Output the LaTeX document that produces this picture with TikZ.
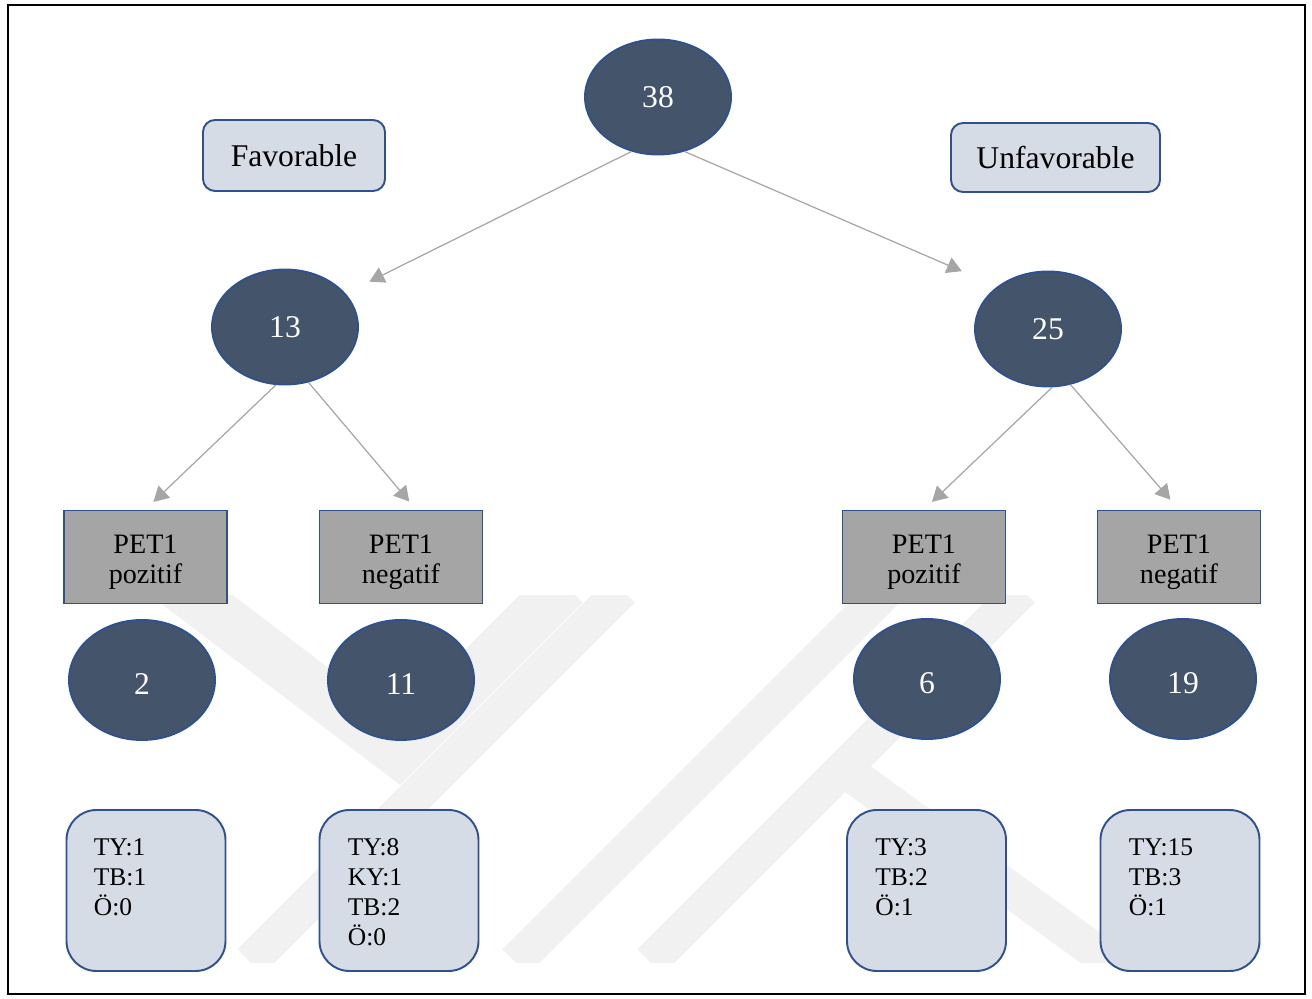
\documentclass[tikz,border=0pt]{standalone}
\usepackage{fontspec}
\setmainfont{Liberation Serif}
\usetikzlibrary{arrows.meta,shapes.geometric,calc}
\newlength{\pxu}\setlength{\pxu}{0.02cm}
\definecolor{ellfill}{HTML}{44546A}
\definecolor{bord}{HTML}{2F528F}
\definecolor{petfill}{HTML}{A5A5A5}
\definecolor{boxfill}{HTML}{D6DCE5}
\definecolor{arrgray}{HTML}{A6A6A6}
\definecolor{wmark}{HTML}{F1F1F1}
\begin{document}
\begin{tikzpicture}[x=0.02cm,y=-0.02cm,
  ell/.style={ellipse,draw=bord,fill=ellfill,line width=1.1pt,minimum width=146\pxu,minimum height=115\pxu,inner sep=0pt,text=white,font=\fontsize{18}{21}\selectfont},
  ellb/.style={ell,minimum height=120\pxu,text height=16.7pt,text depth=0pt},
  lblbox/.style={rectangle,rounded corners=12\pxu,draw=bord,fill=boxfill,line width=1.1pt,font=\fontsize{18}{21}\selectfont,inner sep=0pt},
  petbox/.style={rectangle,draw=bord,fill=petfill,line width=1.1pt,minimum width=163\pxu,minimum height=93\pxu,align=center,inner sep=0pt,font=\fontsize{16}{17}\selectfont},
  leafbox/.style={rectangle,rounded corners=30\pxu,draw=bord,fill=boxfill,line width=1.1pt,minimum width=159\pxu,minimum height=161\pxu,inner sep=0pt},
  leaftext/.style={anchor=base west,inner sep=0pt,font=\fontsize{14.5}{17}\selectfont},
  conn/.style={draw=arrgray,line width=0.7pt,-{Triangle[length=8.5pt,width=9.5pt]}},
  wm/.style={draw=wmark,line width=36\pxu},
  wmthick/.style={draw=wmark,line width=50\pxu}
]
\useasboundingbox (0,0) rectangle (1312,999);

% watermark
\begin{scope}
\clip (60,596) rectangle (1262,962);
\draw[wmthick] (178,585) -- (398,752) -- (565,585);
\draw[wm] (250,962) -- (622,590);
\draw[wm] (515,962) -- (887,590);
\draw[wm] (650,962) -- (1022,590);
\draw[wm] (848,772) -- (1110,962);
\end{scope}

% frame
\draw[line width=1pt] (8,5) rectangle (1305,994);

% top level
\node[ell] (n38) at (658,97) {38};
\node[lblbox,minimum width=182\pxu,minimum height=71\pxu] (fav) at (294,155.5) {Favorable};
\node[lblbox,minimum width=209\pxu,minimum height=69\pxu] (unfav) at (1055.5,157.5) {Unfavorable};

\node[ell] (n13) at (285,327) {13};
\node[ell] (n25) at (1048,329) {25};

% PET boxes
\node[petbox] (p1) at (145.5,557) {\rule{0pt}{16.5pt}PET1\\pozitif};
\node[petbox] (p2) at (401,557) {\rule{0pt}{16.5pt}PET1\\negatif};
\node[petbox] (p3) at (924,557) {\rule{0pt}{16.5pt}PET1\\pozitif};
\node[petbox] (p4) at (1179,557) {\rule{0pt}{16.5pt}PET1\\negatif};

% count ellipses
\node[ellb] (n2) at (142,680) {2};
\node[ellb] (n11) at (401,680) {11};
\node[ellb] (n6) at (927,679) {6};
\node[ellb] (n19) at (1183,679) {19};

% leaf boxes
\node[leafbox] (b1) at (146,890.5) {};
\node[leafbox] (b2) at (399,890.5) {};
\node[leafbox] (b3) at (926.5,890.5) {};
\node[leafbox] (b4) at (1180,890.5) {};

\node[leaftext] (t1a) at ([shift={(28\pxu,-46\pxu)}]b1.north west) {TY:1};
\node[leaftext] (t1b) at ([yshift=-30\pxu]t1a.base west) {TB:1};
\node[leaftext] (t1c) at ([yshift=-30\pxu]t1b.base west) {Ö:0};

\node[leaftext] (t2a) at ([shift={(29\pxu,-46\pxu)}]b2.north west) {TY:8};
\node[leaftext] (t2b) at ([yshift=-30\pxu]t2a.base west) {KY:1};
\node[leaftext] (t2c) at ([yshift=-30\pxu]t2b.base west) {TB:2};
\node[leaftext] (t2d) at ([yshift=-30\pxu]t2c.base west) {Ö:0};

\node[leaftext] (t3a) at ([shift={(29\pxu,-46\pxu)}]b3.north west) {TY:3};
\node[leaftext] (t3b) at ([yshift=-30\pxu]t3a.base west) {TB:2};
\node[leaftext] (t3c) at ([yshift=-30\pxu]t3b.base west) {Ö:1};

\node[leaftext] (t4a) at ([shift={(29\pxu,-46\pxu)}]b4.north west) {TY:15};
\node[leaftext] (t4b) at ([yshift=-30\pxu]t4a.base west) {TB:3};
\node[leaftext] (t4c) at ([yshift=-30\pxu]t4b.base west) {Ö:1};

% connectors
\draw[conn,shorten >=26.5\pxu] (n38.244) -- (n13.29);
\draw[conn,shorten >=38.6\pxu] (n38.296) -- (n25.140);
\draw[conn,shorten >=11\pxu] (n13.261) -- (p1.north);
\draw[conn,shorten >=10.4\pxu] (n13.293) -- ([xshift=15\pxu]p2.north);
\draw[conn,shorten >=11\pxu] (n25.274) -- (p3.north);
\draw[conn,shorten >=13\pxu] (n25.292) -- (p4.north);
\end{tikzpicture}
\end{document}
